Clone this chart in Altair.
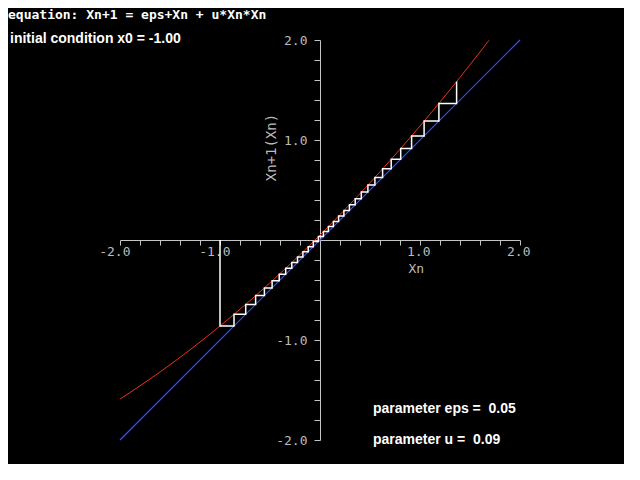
import altair as alt
import pandas as pd

# ---- data ----
eps_value = 0.05
u_value = 0.09
x0_value = -1.00

curve_x = [-2.0, -1.9, -1.8, -1.7, -1.6, -1.5, -1.4, -1.3, -1.2, -1.1, -1.0,
           -0.9, -0.8, -0.7, -0.6, -0.5, -0.4, -0.3, -0.2, -0.1, 0.0,
           0.1, 0.2, 0.3, 0.4, 0.5, 0.6, 0.7, 0.8, 0.9, 1.0,
           1.1, 1.2, 1.3, 1.4, 1.5, 1.6, 1.69]
curve_y = [-1.590, -1.525, -1.458, -1.390, -1.320, -1.248, -1.174, -1.098, -1.020, -0.941, -0.860,
           -0.777, -0.692, -0.606, -0.518, -0.428, -0.336, -0.242, -0.146, -0.049, 0.050,
           0.151, 0.254, 0.358, 0.464, 0.573, 0.682, 0.794, 0.908, 1.023, 1.140,
           1.259, 1.380, 1.502, 1.626, 1.753, 1.880, 1.997]

diag_x = [-2.0, 2.0]
diag_y = [-2.0, 2.0]

iterates = [-1.000, -0.860, -0.743, -0.644, -0.556, -0.479, -0.408, -0.343,
            -0.282, -0.225, -0.171, -0.118, -0.067, -0.016, 0.034, 0.084,
            0.134, 0.186, 0.239, 0.294, 0.352, 0.413, 0.479, 0.549,
            0.626, 0.712, 0.807, 0.916, 1.041, 1.189, 1.366, 1.584]

tick_values = [-2.0, -1.8, -1.6, -1.4, -1.2, -1.0, -0.8, -0.6, -0.4, -0.2,
               0.2, 0.4, 0.6, 0.8, 1.0, 1.2, 1.4, 1.6, 1.8, 2.0]

NB = "\u00a0"
equation_text = "equation: Xn+1 = eps+Xn + u*Xn*Xn"
initial_text = "initial condition x0 = %.2f" % x0_value
eps_text = "parameter eps =" + NB + NB + "%.2f" % eps_value
u_text = "parameter u =" + NB + NB + "%.2f" % u_value

# ---- tables ----
curve_df = pd.DataFrame({"x": curve_x, "y": curve_y})
diag_df = pd.DataFrame({"x": diag_x, "y": diag_y})

web_x, web_y = [iterates[0]], [0.0]
for n in range(len(iterates) - 1):
    web_x.append(iterates[n]); web_y.append(iterates[n + 1])
    if n + 1 < len(iterates) - 1:
        web_x.append(iterates[n + 1]); web_y.append(iterates[n + 1])
web_df = pd.DataFrame({"x": web_x, "y": web_y, "i": list(range(len(web_x)))})

AX = "#c4c4c4"
LBL = "#bcbcbc"
MONO = "DejaVu Sans Mono"
label_expr = ("abs(round(datum.value*10)) % 10 == 0 ? "
              "(datum.value < 0 ? '-' : '') + format(abs(datum.value), '.1f') : ''")

x_axis = alt.Axis(values=tick_values, offset=-200, grid=False,
                  domainColor=AX, tickColor=AX, tickSize=5, domainWidth=1, tickWidth=1,
                  labelExpr=label_expr, labelFont=MONO, labelFontSize=13, labelColor=LBL,
                  labelAlign="right", labelOffset=10, labelPadding=0, labelBaseline="top",
                  labelOverlap=False, labelFlush=False,
                  title="Xn", titleFont=MONO, titleFontSize=13, titleFontWeight="normal",
                  titleColor=LBL, titleX=288, titleY=22, titleAlign="left",
                  titleBaseline="top")
y_axis = alt.Axis(values=tick_values, offset=-200, grid=False,
                  domainColor=AX, tickColor=AX, tickSize=6, domainWidth=1, tickWidth=1,
                  labelExpr=label_expr, labelFont=MONO, labelFontSize=13, labelColor=LBL,
                  labelAlign="right", labelPadding=7, labelBaseline="middle",
                  labelOverlap=False, labelFlush=False,
                  title="Xn+1(Xn)", titleFont=MONO, titleFontSize=14, titleFontWeight="normal",
                  titleColor=LBL, titleX=-49, titleY=107, titleAngle=270,
                  titleAlign="center", titleBaseline="middle")

xs = alt.Scale(domain=[-2, 2], nice=False, zero=False)
ys = alt.Scale(domain=[-2, 2], nice=False, zero=False)
X = alt.X("x:Q", scale=xs, axis=x_axis)
Y = alt.Y("y:Q", scale=ys, axis=y_axis)

diag = alt.Chart(diag_df).mark_line(strokeWidth=1.2).encode(
    x=X, y=Y, color=alt.value("#3550ff"))
curve = alt.Chart(curve_df).mark_line(strokeWidth=1).encode(
    x=X, y=Y, color=alt.value("#f03018"))
web = alt.Chart(web_df).mark_line(strokeWidth=1.5).encode(
    x=X, y=Y, order=alt.Order("i:Q"), color=alt.value("white"))


def label(text, px, py, font, size, weight="bold"):
    return alt.Chart(pd.DataFrame({"t": [text]})).mark_text(
        align="left", baseline="alphabetic", font=font, fontSize=size,
        fontWeight=weight, color="white"
    ).encode(text="t:N", x=alt.value(px), y=alt.value(py))


t1 = label(equation_text, -112, -21, MONO, 13)
t2 = label(initial_text, -110, 3, "Liberation Sans", 14)
t3 = label(eps_text, 253, 373, "Liberation Sans", 14)
t4 = label(u_text, 253, 404, "Liberation Sans", 14)

chart = alt.layer(diag, curve, web, t1, t2, t3, t4).properties(
    width=400, height=400,
    autosize=alt.AutoSizeParams(type="none"),
    padding={"left": 112, "top": 32, "right": 104, "bottom": 24},
    background="black",
).configure_view(stroke=None)

chart.save("out.html", embed_options={"renderer": "svg", "actions": False})
